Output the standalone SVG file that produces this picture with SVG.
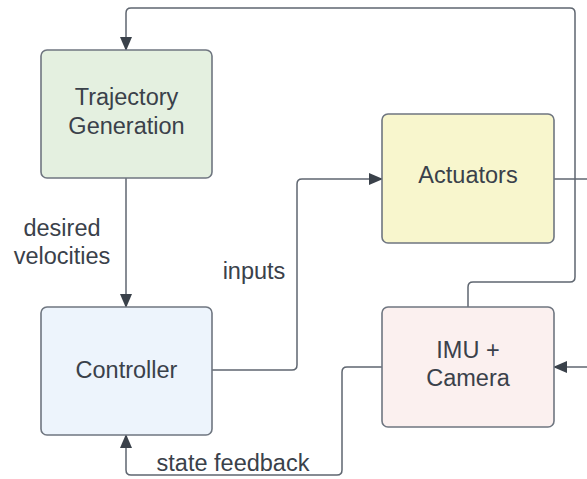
<svg xmlns="http://www.w3.org/2000/svg" width="587" height="479" viewBox="0 0 587 479">
<style>
.box{stroke:#6f7680;stroke-width:1.6}
.t{font-family:"Liberation Sans",Arial,sans-serif;font-size:23.5px;fill:#3a414a;text-anchor:middle}
.c{fill:none;stroke:#5f6670;stroke-width:1.5}
</style>
<defs>
<marker id="ah" markerWidth="14" markerHeight="14" viewBox="0 0 14 12" refX="13" refY="6" orient="auto" markerUnits="userSpaceOnUse">
<path d="M0,0 L14,6 L0,12 Z" fill="#3a414a"/>
</marker>
</defs>
<rect width="587" height="479" fill="#ffffff"/>
<g id="connectors">
<path class="c" d="M468,307 V287 Q468,282 473,282 H570 Q575,282 575,277 V13 Q575,8 570,8 H131 Q126,8 126,13 V50" marker-end="url(#ah)"/>
<path class="c" d="M554,179 H587"/>
<path class="c" d="M587,367 H554" marker-end="url(#ah)"/>
<path class="c" d="M212,370 H292 Q297,370 297,365 V184 Q297,179 302,179 H382" marker-end="url(#ah)"/>
<path class="c" d="M382,367 H347 Q342,367 342,372 V470 Q342,475 337,475 H131 Q126,475 126,470 V435" marker-end="url(#ah)"/>
<path class="c" d="M126,178 V307" marker-end="url(#ah)"/>
</g>
<g id="traj">
<rect class="box" x="41" y="50" width="171" height="128" rx="6" fill="#e4f0e0"/>
<text class="t" x="126.5" y="105">Trajectory</text>
<text class="t" x="126.5" y="134">Generation</text>
</g>
<g id="actuators">
<rect class="box" x="382" y="114" width="172" height="129" rx="6" fill="#f8f6cd"/>
<text class="t" x="468" y="183">Actuators</text>
</g>
<g id="controller">
<rect class="box" x="41" y="307" width="171" height="128" rx="6" fill="#edf4fc"/>
<text class="t" x="126.5" y="378">Controller</text>
</g>
<g id="imu">
<rect class="box" x="382" y="307" width="172" height="120" rx="6" fill="#fbf0ef"/>
<text class="t" x="468" y="358">IMU +</text>
<text class="t" x="468" y="386">Camera</text>
</g>
<g id="labels">
<text class="t" x="62" y="236">desired</text>
<text class="t" x="62" y="264">velocities</text>
<text class="t" x="254" y="279">inputs</text>
<text class="t" x="233" y="471">state feedback</text>
</g>
</svg>
